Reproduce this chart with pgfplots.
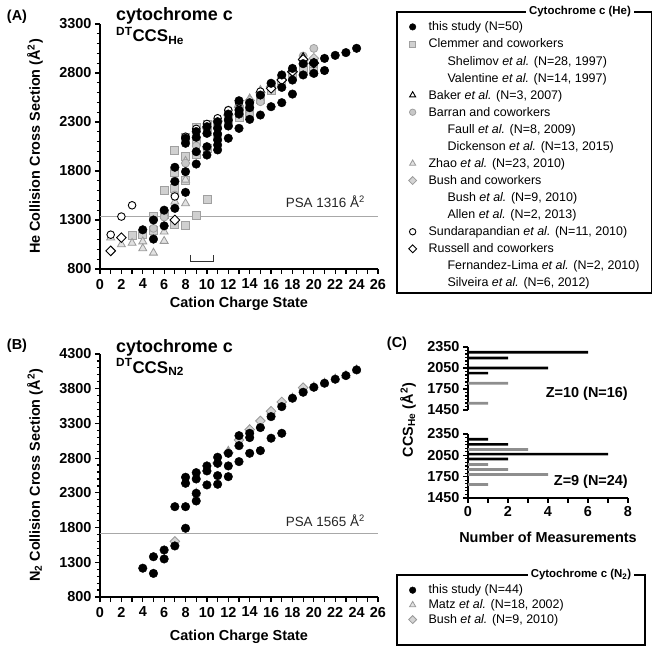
\documentclass[border=0pt]{standalone}
\usepackage{pgfplots}
\pgfplotsset{compat=1.18}
\usepackage{fontspec}
\setmainfont{Liberation Sans}

\definecolor{sqfill}{HTML}{D0D0D0}
\definecolor{sqdraw}{HTML}{A0A0A0}
\definecolor{cifill}{HTML}{C8C8C8}
\definecolor{cidraw}{HTML}{A0A0A0}
\definecolor{trfill}{HTML}{E2E2E2}
\definecolor{trdraw}{HTML}{999999}
\definecolor{dmfill}{HTML}{D4D4D4}
\definecolor{dmdraw}{HTML}{999999}
\definecolor{bargray}{HTML}{8E8E8E}
\definecolor{psagray}{HTML}{A8A8A8}

\newcommand{\fsz}[1]{\fontsize{#1}{#1}\selectfont}

\tikzset{
  ts/.style={only marks, mark=*, mark size=4.3bp, mark options={draw=black, fill=black, line width=0.4bp}},
  clem/.style={only marks, mark=square*, mark size=4bp, mark options={draw=sqdraw, fill=sqfill, line width=0.8bp}},
  baker/.style={only marks, mark=triangle*, mark size=4.6bp, mark options={draw=black, fill=white, line width=0.9bp}},
  barran/.style={only marks, mark=*, mark size=4bp, mark options={draw=cidraw, fill=cifill, line width=0.8bp}},
  zhao/.style={only marks, mark=triangle*, mark size=4.6bp, mark options={draw=trdraw, fill=trfill, line width=0.8bp}},
  bush/.style={only marks, mark=square*, mark size=3.4bp, mark options={draw=dmdraw, fill=dmfill, line width=0.8bp, rotate=45}},
  sund/.style={only marks, mark=*, mark size=3.8bp, mark options={draw=black, fill=white, line width=0.9bp}},
  russ/.style={only marks, mark=square*, mark size=3.4bp, mark options={draw=black, fill=white, line width=0.9bp, rotate=45}},
  psaline/.style={psagray, line width=0.8bp},
}

\pgfplotsset{
  panel/.style={
    scale only axis, axis lines*=left, tick align=outside,
    axis line style={line width=1.6bp},
    tick style={black, line width=1.2bp},
    major tick length=5bp, minor tick length=3bp,
    tick label style={font=\bfseries\fsz{14.5}},
    label style={font=\bfseries\fsz{14.5}},
    /pgf/number format/assume math mode=true,
    /pgf/number format/1000 sep={},
    scaled ticks=false,
    clip=false,
    legend cell align=left,
    legend image code/.code={\draw[##1] plot coordinates {(0bp,0bp)};},
  },
  chargex/.style={
    xmin=0, xmax=26, xtick={0,1,...,26},
    xticklabels={0,,2,,4,,6,,8,,10,,12,,14,,16,,18,,20,,22,,24,,26},
    xticklabel style={yshift=-1.5bp},
    xlabel={Cation Charge State},
  },
}

\begin{document}
\begin{tikzpicture}
\useasboundingbox (0bp,0bp) rectangle (654bp,652bp);

% ---------------- Panel A ----------------
\begin{axis}[panel, chargex, at={(100bp,383bp)}, anchor=south west, width=278bp, height=245bp,
  ymin=800, ymax=3300,
  ytick={800,1300,...,3300}, minor y tick num=4,
  ylabel={He Collision Cross Section (Å\textsuperscript{2})},
  xlabel style={at={(axis description cs:0.5,-0.141)}, anchor=center},
  ylabel style={at={(axis description cs:-0.234,0.5)}, anchor=center},
  legend style={draw=none, fill=none, at={(axis description cs:1.1097,1.0196)}, anchor=north west,
    inner sep=0pt, row sep=2.07bp, column sep=12bp, font=\fsz{12.5},
    nodes={inner sep=0pt, text height=11.5bp, text depth=3.5bp}},
]
\addplot[psaline, forget plot] coordinates {(0,1335) (26,1335)};
\addplot[black!80, line width=1bp, forget plot] coordinates {(8.5,945) (8.5,875) (10.6,875) (10.6,945)};

% Clemmer and coworkers
\addplot[clem, forget plot] coordinates {
(3,1140) (4,1150) (5,1340) (5,1190) (6,1605) (6,1360) (7,2010) (7,1787) (7,1622) (7,1256)
(8,2140) (8,1708) (8,1249) (8,1950) (9,2246) (9,1351) (9,1970) (9,2100) (10,2279) (10,1514)
(10,2030) (10,2200) (11,2280) (11,2150) (12,2350) (12,2290) (13,2347) (13,2430) (14,2388) (14,2470)
(15,2560) (15,2530) (16,2670) (16,2620) (17,2730) (17,2700) (18,2800) (18,2770) (19,2880) (19,2830)
(20,2870) (20,2820)};
% Zhao et al.
\addplot[zhao, forget plot] coordinates {
(1,1120) (2,1050) (3,1065) (4,1080) (4,1010) (5,965) (6,1180) (6,1085) (7,1487) (8,1902)
(8,1710) (8,1469) (10,2260) (11,2320) (12,2400) (13,2480) (14,2540) (15,2625) (16,2690) (17,2770)
(18,2840) (19,2910) (20,2939)};
% Barran and coworkers
\addplot[barran, forget plot] coordinates {
(5,1215) (6,1330) (7,1555) (7,1700) (8,1880) (9,2056) (10,2030) (10,2230) (11,2290) (12,2422)
(12,2330) (13,2470) (13,2400) (14,2381) (14,2450) (15,2507) (16,2650) (17,2740) (18,2820) (19,2973)
(20,3051)};
% Bush and coworkers
\addplot[bush, forget plot] coordinates {
(10,2240) (11,2310) (12,2370) (13,2450) (14,2520) (15,2600) (16,2660) (17,2730) (18,2810) (19,2930)
(20,2950)};
% Baker et al.
\addplot[baker, forget plot] coordinates {(17,2750) (18,2830) (19,2960)};
% Sundarapandian et al.
\addplot[sund, forget plot] coordinates {
(1,1150) (2,1335) (3,1450) (7,1540) (8,2150) (9,2230) (10,2280) (11,2338) (12,2420) (13,2500)
(15,2610)};
% Russell and coworkers
\addplot[russ, forget plot] coordinates {
(1,985) (2,1120) (7,1300) (16,2643) (17,2728) (18,2815) (19,2939) (20,2900)};
% this study
\addplot[ts, forget plot] coordinates {
(4,1200) (5,1300) (5,1105) (6,1400) (6,1240) (7,1838) (7,1692) (7,1419)
(8,2134) (8,2083) (8,1793) (8,1582) (9,2202) (9,2144) (9,1997) (9,1871)
(10,2252) (10,2184) (10,2048) (10,1963) (11,2303) (11,2235) (11,2177) (11,2116) (11,2065) (11,2015)
(12,2381) (12,2320) (12,2259) (12,2134) (13,2517) (13,2422) (13,2381) (13,2235)
(14,2497) (14,2446) (14,2327) (15,2575) (15,2371) (16,2695) (16,2456)
(17,2780) (17,2653) (17,2497) (18,2847) (18,2728) (18,2585) (19,2895) (19,2780)
(20,2905) (20,2796) (21,2949) (21,2825) (22,2980) (23,3008) (24,3052)};

\addlegendimage{ts, mark size=3.3bp}
\addlegendentry{this study (N=50)}
\addlegendimage{clem, mark size=3bp}
\addlegendentry{Clemmer and coworkers}
\addlegendimage{empty legend}
\addlegendentry{\hspace*{19bp}Shelimov \textit{et al.} (N=28, 1997)}
\addlegendimage{empty legend}
\addlegendentry{\hspace*{19bp}Valentine \textit{et al.} (N=14, 1997)}
\addlegendimage{baker, mark size=3.5bp}
\addlegendentry{Baker \textit{et al.} (N=3, 2007)}
\addlegendimage{barran, mark size=3.2bp}
\addlegendentry{Barran and coworkers}
\addlegendimage{empty legend}
\addlegendentry{\hspace*{19bp}Faull \textit{et al.} (N=8, 2009)}
\addlegendimage{empty legend}
\addlegendentry{\hspace*{19bp}Dickenson \textit{et al.} (N=13, 2015)}
\addlegendimage{zhao, mark size=3.5bp}
\addlegendentry{Zhao \textit{et al.} (N=23, 2010)}
\addlegendimage{bush, mark size=2.8bp}
\addlegendentry{Bush and coworkers}
\addlegendimage{empty legend}
\addlegendentry{\hspace*{19bp}Bush \textit{et al.} (N=9, 2010)}
\addlegendimage{empty legend}
\addlegendentry{\hspace*{19bp}Allen \textit{et al.} (N=2, 2013)}
\addlegendimage{sund, mark size=3.2bp}
\addlegendentry{Sundarapandian \textit{et al.} (N=11, 2010)}
\addlegendimage{russ, mark size=2.8bp}
\addlegendentry{Russell and coworkers}
\addlegendimage{empty legend}
\addlegendentry{\hspace*{19bp}Fernandez-Lima \textit{et al.} (N=2, 2010)}
\addlegendimage{empty legend}
\addlegendentry{\hspace*{19bp}Silveira \textit{et al.} (N=6, 2012)}
\end{axis}

% ---------------- Panel B ----------------
\begin{axis}[panel, chargex, at={(100bp,55bp)}, anchor=south west, width=278bp, height=243bp,
  ymin=800, ymax=4300,
  ytick={800,1300,...,4300}, minor y tick num=4,
  ylabel={N\textsubscript{2} Collision Cross Section (Å\textsuperscript{2})},
  xlabel style={at={(axis description cs:0.5,-0.163)}, anchor=center},
  ylabel style={at={(axis description cs:-0.234,0.5)}, anchor=center},
  legend style={draw=none, fill=none, at={(axis description cs:1.1097,0.0576)}, anchor=north west,
    inner sep=0pt, row sep=0.7bp, column sep=12bp, font=\fsz{12.5},
    nodes={inner sep=0pt, text height=10.5bp, text depth=3.5bp}},
]
\addplot[psaline, forget plot] coordinates {(0,1718) (26,1718)};
% Matz et al.
\addplot[zhao, forget plot] coordinates {
(7,1580) (8,2470) (9,2300) (10,2640) (11,2740) (12,2905) (13,3000) (14,3215) (15,3265) (16,3470)
(17,3600) (18,3670) (19,3805) (20,3830) (21,3885) (22,3945) (23,3995) (24,4075)};
% Bush et al.
\addplot[bush, forget plot] coordinates {
(7,1600) (11,2730) (12,2880) (13,3060) (14,3210) (15,3336) (16,3475) (17,3610) (19,3815)};
% this study
\addplot[ts, forget plot] coordinates {
(4,1215) (5,1380) (5,1140) (6,1477) (6,1348) (7,2101) (7,1535)
(8,2525) (8,2438) (8,2101) (8,1790) (9,2591) (9,2500) (9,2294) (9,2183)
(10,2688) (10,2616) (10,2414) (11,2813) (11,2726) (11,2548) (11,2424)
(12,2870) (12,2688) (12,2533) (13,3124) (13,2980) (13,2750)
(14,3158) (14,3096) (14,2870) (15,3240) (15,2908) (16,3398) (16,3087)
(17,3542) (17,3158) (18,3663) (19,3749) (20,3821) (21,3879) (22,3937) (23,3989) (24,4071)};

\addlegendimage{ts, mark size=3.3bp}
\addlegendentry{this study (N=44)}
\addlegendimage{zhao, mark size=3.5bp}
\addlegendentry{Matz \textit{et al.} (N=18, 2002)}
\addlegendimage{bush, mark size=2.8bp}
\addlegendentry{Bush \textit{et al.} (N=9, 2010)}
\end{axis}

% ---------------- Panel C, Z=10 ----------------
\begin{axis}[panel, at={(468bp,242bp)}, anchor=south west, width=160bp, height=63bp,
  axis x line=none, axis y line*=left,
  xmin=0, xmax=8, ymin=1450, ymax=2350,
  ytick={1450,1750,2050,2350}, minor y tick num=5,
  xbar, bar width=2.7bp,
]
\addplot[fill=black, draw=none, bar shift=0pt] coordinates {(6,2275) (2,2192) (4,2050) (1,1977)};
\addplot[fill=bargray, draw=none, bar shift=0pt] coordinates {(2,1833) (1,1547)};
\end{axis}

% ---------------- Panel C, Z=9 ----------------
\begin{axis}[panel, at={(468bp,154bp)}, anchor=south west, width=160bp, height=64bp,
  xmin=0, xmax=8, ymin=1450, ymax=2350,
  xtick={0,1,...,8}, xticklabels={0,,2,,4,,6,,8},
  ytick={1450,1750,2050,2350}, minor y tick num=5,
  xlabel={Number of Measurements},
  xlabel style={at={(axis description cs:0.5,-0.61)}, anchor=center},
  xbar, bar width=2.7bp,
]
\addplot[fill=black, draw=none, bar shift=0pt] coordinates {(1,2275) (2,2204) (7,2067) (2,1997)};
\addplot[fill=bargray, draw=none, bar shift=0pt] coordinates {(3,2133) (1,1921) (2,1851) (4,1780) (1,1639)};
\end{axis}

% ---------------- text and boxes ----------------
\begin{scope}[x=1bp, y=1bp]
\node[font=\bfseries\fsz{14.5}] at (17,635) {(A)};
\node[font=\bfseries\fsz{18}, anchor=base west, inner sep=0pt] at (116,631) {cytochrome c};
\node[font=\bfseries\fsz{17}, anchor=base west, inner sep=0pt] at (116,610) {\textsuperscript{DT}CCS\textsubscript{He}};
\node[font=\bfseries\fsz{14.5}] at (17,306) {(B)};
\node[font=\bfseries\fsz{18}, anchor=base west, inner sep=0pt] at (116,300) {cytochrome c};
\node[font=\bfseries\fsz{17}, anchor=base west, inner sep=0pt] at (116,279) {\textsuperscript{DT}CCS\textsubscript{N2}};
\node[font=\bfseries\fsz{14.5}] at (397,308) {(C)};

\node[font=\fsz{13.5}, anchor=base east, inner sep=0pt, text=black!85] at (365,444) {PSA 1316 Å\textsuperscript{2}};
\node[font=\fsz{13.5}, anchor=base east, inner sep=0pt, text=black!85] at (365,125.5) {PSA 1565 Å\textsuperscript{2}};

\node[font=\bfseries\fsz{14.5}, anchor=east, inner sep=0pt] at (628,258) {Z=10 (N=16)};
\node[font=\bfseries\fsz{14.5}, anchor=east, inner sep=0pt] at (628,170) {Z=9 (N=24)};
\node[font=\bfseries\fsz{14.5}, rotate=90] at (408,232) {CCS\textsubscript{He} (Å\textsuperscript{2})};

\draw[line width=1.5bp] (397,359) rectangle (651.5,640);
\node[fill=white, font=\bfseries\fsz{11.5}, inner sep=3bp] at (580,640) {Cytochrome c (He)};
\draw[line width=1.5bp] (397,7) rectangle (645,77);
\node[fill=white, font=\bfseries\fsz{11.5}, inner sep=3bp] at (581,77) {Cytochrome c (N\textsubscript{2})};
\end{scope}
\end{tikzpicture}
\end{document}
